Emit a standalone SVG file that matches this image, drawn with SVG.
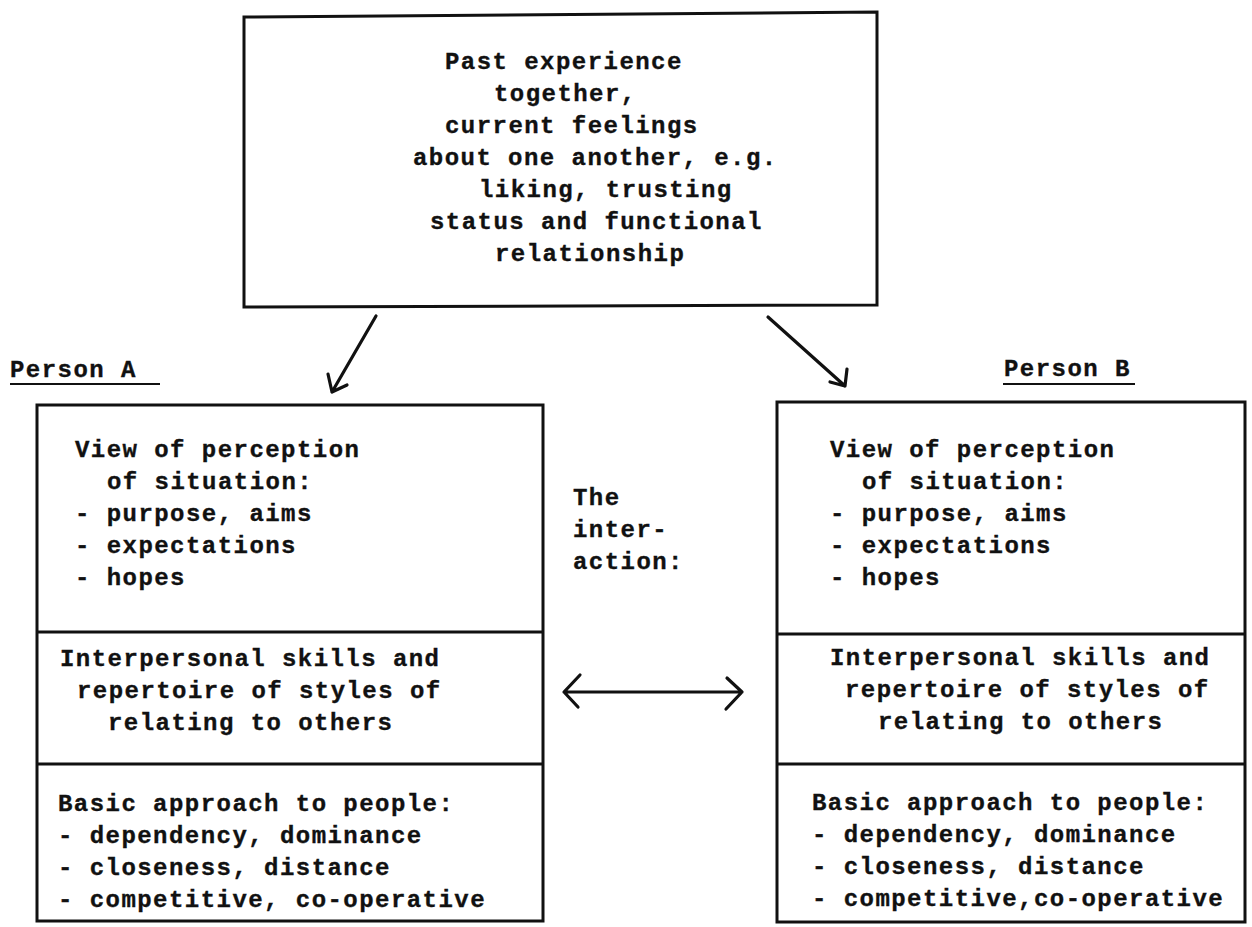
<svg xmlns="http://www.w3.org/2000/svg" width="1252" height="927" viewBox="0 0 1252 927">
  <defs>
    <style>
      .frame { fill: none; stroke: #111; stroke-width: 3; stroke-linejoin: miter; }
      .rule { stroke: #111; stroke-width: 3; }
      .uline { stroke: #111; stroke-width: 2; }
      .arrow { fill: none; stroke: #111; stroke-width: 3.2; stroke-linecap: round; stroke-linejoin: round; }
      text { font-family: "Liberation Mono", "DejaVu Sans Mono", monospace; font-weight: bold; font-size: 24px; letter-spacing: 1.45px; fill: #111; stroke: #111; stroke-width: 0.35; }
    </style>
  </defs>
  <rect width="1252" height="927" fill="#fff"/>

  <!-- shared relationship box -->
  <g id="node-relationship">
    <polygon class="frame" points="244,17 877,12 877,305 244,307"/>
    <text x="445" y="69">Past experience</text>
    <text x="494" y="101">together,</text>
    <text x="445" y="133">current feelings</text>
    <text x="413" y="165">about one another, e.g.</text>
    <text x="479" y="197">liking, trusting</text>
    <text x="430" y="229">status and functional</text>
    <text x="495" y="261">relationship</text>
  </g>

  <!-- person A -->
  <g id="label-person-a">
    <text x="10" y="377">Person A</text>
    <line class="uline" x1="10" y1="384" x2="160" y2="384"/>
  </g>
  <g id="node-person-a">
    <rect class="frame" x="37" y="405" width="506" height="516"/>
    <line class="rule" x1="37" y1="632" x2="543" y2="632"/>
    <line class="rule" x1="37" y1="764" x2="543" y2="764"/>
    <text x="75" y="457">View of perception</text>
    <text x="107" y="489">of situation:</text>
    <text x="75" y="521">- purpose, aims</text>
    <text x="75" y="553">- expectations</text>
    <text x="75" y="585">- hopes</text>
    <text x="60" y="666">Interpersonal skills and</text>
    <text x="77" y="698">repertoire of styles of</text>
    <text x="108" y="730">relating to others</text>
    <text x="58" y="811">Basic approach to people:</text>
    <text x="58" y="843">- dependency, dominance</text>
    <text x="58" y="875">- closeness, distance</text>
    <text x="58" y="907">- competitive, co-operative</text>
  </g>

  <!-- person B -->
  <g id="label-person-b">
    <text x="1004" y="376">Person B</text>
    <line class="uline" x1="1003" y1="384" x2="1135" y2="384"/>
  </g>
  <g id="node-person-b">
    <rect class="frame" x="777" y="402" width="468" height="520"/>
    <line class="rule" x1="777" y1="634" x2="1245" y2="634"/>
    <line class="rule" x1="777" y1="764" x2="1245" y2="764"/>
    <text x="830" y="457">View of perception</text>
    <text x="862" y="489">of situation:</text>
    <text x="830" y="521">- purpose, aims</text>
    <text x="830" y="553">- expectations</text>
    <text x="830" y="585">- hopes</text>
    <text x="830" y="665">Interpersonal skills and</text>
    <text x="845" y="697">repertoire of styles of</text>
    <text x="878" y="729">relating to others</text>
    <text x="812" y="810">Basic approach to people:</text>
    <text x="812" y="842">- dependency, dominance</text>
    <text x="812" y="874">- closeness, distance</text>
    <text x="812" y="906">- competitive,co-operative</text>
  </g>

  <!-- label between the two people -->
  <g id="label-interaction">
    <text x="573" y="505">The</text>
    <text x="573" y="537">inter-</text>
    <text x="573" y="569">action:</text>
  </g>

  <!-- connectors -->
  <g id="connectors">
    <path class="arrow" d="M376,316 L332,392 M328,374 L332,392 L347,385"/>
    <path class="arrow" d="M768,317 L845,386 M847,369 L845,386 L830,382"/>
    <path class="arrow" d="M564,692 L742,692 M580,675 L564,692 L578,707 M727,678 L742,692 L726,709"/>
  </g>
</svg>
